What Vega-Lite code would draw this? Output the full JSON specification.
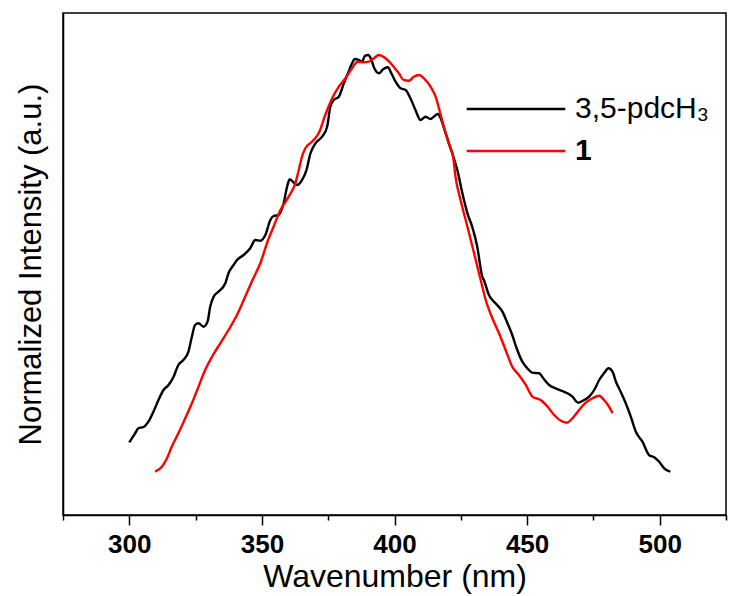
{
  "$schema": "https://vega.github.io/schema/vega-lite/v6.json",
  "autosize": {"type": "none"},
  "padding": {"left": 63, "top": 13, "right": 7, "bottom": 81},
  "width": 663,
  "height": 502,
  "background": "white",
  "config": {
    "view": {"stroke": "#000000", "strokeWidth": 1.5},
    "font": "Liberation Sans",
    "axis": {"grid": false}
  },
  "datasets": {
    "spectra": [
      {"series": "3,5-pdcH₃", "wavelength": 300.0, "intensity": 14.48},
      {"series": "3,5-pdcH₃", "wavelength": 302.2, "intensity": 16.27},
      {"series": "3,5-pdcH₃", "wavelength": 303.4, "intensity": 17.27},
      {"series": "3,5-pdcH₃", "wavelength": 305.6, "intensity": 17.59},
      {"series": "3,5-pdcH₃", "wavelength": 307.2, "intensity": 18.59},
      {"series": "3,5-pdcH₃", "wavelength": 309.1, "intensity": 20.58},
      {"series": "3,5-pdcH₃", "wavelength": 311.0, "intensity": 22.91},
      {"series": "3,5-pdcH₃", "wavelength": 312.9, "intensity": 24.90},
      {"series": "3,5-pdcH₃", "wavelength": 314.8, "intensity": 25.90},
      {"series": "3,5-pdcH₃", "wavelength": 316.7, "intensity": 27.55},
      {"series": "3,5-pdcH₃", "wavelength": 318.5, "intensity": 29.88},
      {"series": "3,5-pdcH₃", "wavelength": 320.4, "intensity": 30.88},
      {"series": "3,5-pdcH₃", "wavelength": 322.3, "intensity": 32.53},
      {"series": "3,5-pdcH₃", "wavelength": 323.6, "intensity": 35.52},
      {"series": "3,5-pdcH₃", "wavelength": 324.8, "intensity": 37.85},
      {"series": "3,5-pdcH₃", "wavelength": 326.1, "intensity": 38.19},
      {"series": "3,5-pdcH₃", "wavelength": 328.0, "intensity": 37.51},
      {"series": "3,5-pdcH₃", "wavelength": 329.5, "intensity": 38.51},
      {"series": "3,5-pdcH₃", "wavelength": 330.5, "intensity": 41.49},
      {"series": "3,5-pdcH₃", "wavelength": 331.8, "intensity": 43.49},
      {"series": "3,5-pdcH₃", "wavelength": 333.6, "intensity": 44.48},
      {"series": "3,5-pdcH₃", "wavelength": 336.2, "intensity": 46.15},
      {"series": "3,5-pdcH₃", "wavelength": 337.4, "intensity": 48.15},
      {"series": "3,5-pdcH₃", "wavelength": 339.3, "intensity": 49.80},
      {"series": "3,5-pdcH₃", "wavelength": 340.6, "intensity": 50.80},
      {"series": "3,5-pdcH₃", "wavelength": 343.1, "intensity": 51.79},
      {"series": "3,5-pdcH₃", "wavelength": 345.6, "intensity": 53.13},
      {"series": "3,5-pdcH₃", "wavelength": 347.5, "intensity": 54.78},
      {"series": "3,5-pdcH₃", "wavelength": 349.4, "intensity": 54.64},
      {"series": "3,5-pdcH₃", "wavelength": 351.3, "intensity": 55.78},
      {"series": "3,5-pdcH₃", "wavelength": 353.2, "intensity": 58.76},
      {"series": "3,5-pdcH₃", "wavelength": 354.4, "intensity": 59.56},
      {"series": "3,5-pdcH₃", "wavelength": 356.3, "intensity": 59.76},
      {"series": "3,5-pdcH₃", "wavelength": 358.2, "intensity": 62.09},
      {"series": "3,5-pdcH₃", "wavelength": 359.5, "intensity": 65.40},
      {"series": "3,5-pdcH₃", "wavelength": 360.5, "intensity": 66.87},
      {"series": "3,5-pdcH₃", "wavelength": 361.7, "intensity": 66.39},
      {"series": "3,5-pdcH₃", "wavelength": 363.3, "intensity": 65.74},
      {"series": "3,5-pdcH₃", "wavelength": 365.1, "intensity": 66.73},
      {"series": "3,5-pdcH₃", "wavelength": 366.8, "intensity": 68.72},
      {"series": "3,5-pdcH₃", "wavelength": 368.3, "intensity": 72.05},
      {"series": "3,5-pdcH₃", "wavelength": 370.2, "intensity": 74.04},
      {"series": "3,5-pdcH₃", "wavelength": 372.7, "intensity": 75.36},
      {"series": "3,5-pdcH₃", "wavelength": 374.6, "intensity": 77.35},
      {"series": "3,5-pdcH₃", "wavelength": 375.8, "intensity": 81.33},
      {"series": "3,5-pdcH₃", "wavelength": 377.1, "intensity": 82.67},
      {"series": "3,5-pdcH₃", "wavelength": 379.0, "intensity": 83.33},
      {"series": "3,5-pdcH₃", "wavelength": 380.9, "intensity": 85.99},
      {"series": "3,5-pdcH₃", "wavelength": 382.7, "intensity": 88.31},
      {"series": "3,5-pdcH₃", "wavelength": 384.0, "intensity": 89.98},
      {"series": "3,5-pdcH₃", "wavelength": 385.0, "intensity": 90.84},
      {"series": "3,5-pdcH₃", "wavelength": 386.5, "intensity": 90.64},
      {"series": "3,5-pdcH₃", "wavelength": 387.8, "intensity": 90.30},
      {"series": "3,5-pdcH₃", "wavelength": 388.8, "intensity": 91.43},
      {"series": "3,5-pdcH₃", "wavelength": 390.1, "intensity": 91.63},
      {"series": "3,5-pdcH₃", "wavelength": 391.2, "intensity": 90.78},
      {"series": "3,5-pdcH₃", "wavelength": 392.4, "intensity": 88.98},
      {"series": "3,5-pdcH₃", "wavelength": 394.1, "intensity": 87.99},
      {"series": "3,5-pdcH₃", "wavelength": 395.7, "intensity": 88.78},
      {"series": "3,5-pdcH₃", "wavelength": 397.5, "intensity": 89.18},
      {"series": "3,5-pdcH₃", "wavelength": 398.8, "intensity": 87.99},
      {"series": "3,5-pdcH₃", "wavelength": 400.4, "intensity": 86.31},
      {"series": "3,5-pdcH₃", "wavelength": 402.3, "intensity": 85.00},
      {"series": "3,5-pdcH₃", "wavelength": 404.2, "intensity": 84.66},
      {"series": "3,5-pdcH₃", "wavelength": 406.0, "intensity": 83.01},
      {"series": "3,5-pdcH₃", "wavelength": 407.9, "intensity": 80.68},
      {"series": "3,5-pdcH₃", "wavelength": 409.8, "intensity": 78.68},
      {"series": "3,5-pdcH₃", "wavelength": 411.7, "intensity": 79.34},
      {"series": "3,5-pdcH₃", "wavelength": 413.6, "intensity": 78.88},
      {"series": "3,5-pdcH₃", "wavelength": 414.8, "intensity": 79.34},
      {"series": "3,5-pdcH₃", "wavelength": 416.4, "intensity": 79.88},
      {"series": "3,5-pdcH₃", "wavelength": 417.4, "intensity": 79.02},
      {"series": "3,5-pdcH₃", "wavelength": 418.9, "intensity": 76.69},
      {"series": "3,5-pdcH₃", "wavelength": 420.5, "intensity": 74.04},
      {"series": "3,5-pdcH₃", "wavelength": 422.2, "intensity": 71.37},
      {"series": "3,5-pdcH₃", "wavelength": 423.7, "intensity": 68.72},
      {"series": "3,5-pdcH₃", "wavelength": 425.6, "intensity": 64.08},
      {"series": "3,5-pdcH₃", "wavelength": 427.5, "intensity": 60.10},
      {"series": "3,5-pdcH₃", "wavelength": 429.3, "intensity": 57.43},
      {"series": "3,5-pdcH₃", "wavelength": 431.2, "intensity": 53.45},
      {"series": "3,5-pdcH₃", "wavelength": 433.1, "intensity": 47.47},
      {"series": "3,5-pdcH₃", "wavelength": 433.7, "intensity": 46.81},
      {"series": "3,5-pdcH₃", "wavelength": 435.6, "intensity": 43.82},
      {"series": "3,5-pdcH₃", "wavelength": 438.1, "intensity": 42.17},
      {"series": "3,5-pdcH₃", "wavelength": 440.7, "intensity": 40.50},
      {"series": "3,5-pdcH₃", "wavelength": 442.6, "intensity": 38.19},
      {"series": "3,5-pdcH₃", "wavelength": 444.4, "intensity": 35.86},
      {"series": "3,5-pdcH₃", "wavelength": 446.3, "intensity": 32.87},
      {"series": "3,5-pdcH₃", "wavelength": 448.2, "intensity": 30.54},
      {"series": "3,5-pdcH₃", "wavelength": 450.1, "intensity": 29.22},
      {"series": "3,5-pdcH₃", "wavelength": 452.0, "intensity": 28.35},
      {"series": "3,5-pdcH₃", "wavelength": 454.5, "intensity": 28.23},
      {"series": "3,5-pdcH₃", "wavelength": 456.4, "intensity": 27.03},
      {"series": "3,5-pdcH₃", "wavelength": 458.3, "intensity": 25.90},
      {"series": "3,5-pdcH₃", "wavelength": 460.8, "intensity": 25.24},
      {"series": "3,5-pdcH₃", "wavelength": 463.3, "intensity": 24.70},
      {"series": "3,5-pdcH₃", "wavelength": 465.2, "intensity": 24.24},
      {"series": "3,5-pdcH₃", "wavelength": 467.1, "intensity": 23.57},
      {"series": "3,5-pdcH₃", "wavelength": 469.2, "intensity": 22.37},
      {"series": "3,5-pdcH₃", "wavelength": 471.5, "intensity": 22.91},
      {"series": "3,5-pdcH₃", "wavelength": 473.4, "intensity": 23.57},
      {"series": "3,5-pdcH₃", "wavelength": 475.3, "intensity": 24.90},
      {"series": "3,5-pdcH₃", "wavelength": 477.2, "intensity": 26.89},
      {"series": "3,5-pdcH₃", "wavelength": 479.0, "intensity": 28.23},
      {"series": "3,5-pdcH₃", "wavelength": 480.7, "intensity": 29.22},
      {"series": "3,5-pdcH₃", "wavelength": 482.2, "intensity": 28.55},
      {"series": "3,5-pdcH₃", "wavelength": 483.5, "intensity": 26.55},
      {"series": "3,5-pdcH₃", "wavelength": 485.3, "intensity": 24.56},
      {"series": "3,5-pdcH₃", "wavelength": 487.2, "intensity": 22.25},
      {"series": "3,5-pdcH₃", "wavelength": 489.1, "intensity": 19.58},
      {"series": "3,5-pdcH₃", "wavelength": 491.0, "intensity": 16.59},
      {"series": "3,5-pdcH₃", "wavelength": 493.5, "intensity": 14.60},
      {"series": "3,5-pdcH₃", "wavelength": 496.0, "intensity": 11.95},
      {"series": "3,5-pdcH₃", "wavelength": 497.9, "intensity": 11.49},
      {"series": "3,5-pdcH₃", "wavelength": 499.8, "intensity": 10.62},
      {"series": "3,5-pdcH₃", "wavelength": 501.7, "intensity": 9.30},
      {"series": "3,5-pdcH₃", "wavelength": 504.0, "intensity": 8.63},
      {"series": "1", "wavelength": 309.7, "intensity": 8.63},
      {"series": "1", "wavelength": 312.3, "intensity": 9.62},
      {"series": "1", "wavelength": 314.2, "intensity": 11.29},
      {"series": "1", "wavelength": 316.0, "intensity": 13.61},
      {"series": "1", "wavelength": 318.5, "intensity": 16.27},
      {"series": "1", "wavelength": 321.1, "intensity": 19.26},
      {"series": "1", "wavelength": 323.6, "intensity": 22.25},
      {"series": "1", "wavelength": 326.1, "intensity": 25.56},
      {"series": "1", "wavelength": 328.6, "intensity": 28.88},
      {"series": "1", "wavelength": 331.2, "intensity": 31.53},
      {"series": "1", "wavelength": 334.3, "intensity": 34.20},
      {"series": "1", "wavelength": 337.4, "intensity": 36.85},
      {"series": "1", "wavelength": 340.6, "intensity": 39.84},
      {"series": "1", "wavelength": 343.7, "intensity": 43.49},
      {"series": "1", "wavelength": 346.9, "intensity": 47.31},
      {"series": "1", "wavelength": 349.4, "intensity": 50.14},
      {"series": "1", "wavelength": 351.9, "intensity": 54.12},
      {"series": "1", "wavelength": 354.4, "intensity": 57.43},
      {"series": "1", "wavelength": 357.0, "intensity": 60.76},
      {"series": "1", "wavelength": 360.1, "intensity": 63.41},
      {"series": "1", "wavelength": 362.6, "intensity": 66.07},
      {"series": "1", "wavelength": 363.9, "intensity": 68.72},
      {"series": "1", "wavelength": 365.1, "intensity": 71.37},
      {"series": "1", "wavelength": 366.4, "intensity": 73.05},
      {"series": "1", "wavelength": 368.9, "intensity": 74.36},
      {"series": "1", "wavelength": 371.4, "intensity": 76.03},
      {"series": "1", "wavelength": 373.9, "intensity": 79.68},
      {"series": "1", "wavelength": 376.5, "intensity": 83.01},
      {"series": "1", "wavelength": 379.0, "intensity": 85.32},
      {"series": "1", "wavelength": 381.5, "intensity": 86.99},
      {"series": "1", "wavelength": 384.0, "intensity": 88.98},
      {"series": "1", "wavelength": 386.1, "intensity": 90.30},
      {"series": "1", "wavelength": 388.4, "intensity": 90.18},
      {"series": "1", "wavelength": 390.3, "intensity": 90.30},
      {"series": "1", "wavelength": 392.2, "intensity": 90.97},
      {"series": "1", "wavelength": 394.1, "intensity": 91.63},
      {"series": "1", "wavelength": 396.6, "intensity": 90.97},
      {"series": "1", "wavelength": 399.1, "intensity": 89.64},
      {"series": "1", "wavelength": 401.6, "intensity": 87.99},
      {"series": "1", "wavelength": 403.5, "intensity": 86.65},
      {"series": "1", "wavelength": 405.4, "intensity": 86.51},
      {"series": "1", "wavelength": 407.3, "intensity": 87.31},
      {"series": "1", "wavelength": 409.2, "intensity": 87.65},
      {"series": "1", "wavelength": 411.1, "intensity": 86.99},
      {"series": "1", "wavelength": 413.6, "intensity": 85.32},
      {"series": "1", "wavelength": 415.5, "intensity": 83.33},
      {"series": "1", "wavelength": 417.1, "intensity": 80.34},
      {"series": "1", "wavelength": 418.6, "intensity": 77.35},
      {"series": "1", "wavelength": 420.5, "intensity": 74.04},
      {"series": "1", "wavelength": 422.2, "intensity": 71.05},
      {"series": "1", "wavelength": 423.0, "intensity": 67.39},
      {"series": "1", "wavelength": 424.9, "intensity": 62.75},
      {"series": "1", "wavelength": 427.5, "intensity": 57.43},
      {"series": "1", "wavelength": 430.0, "intensity": 52.13},
      {"series": "1", "wavelength": 432.5, "intensity": 46.81},
      {"series": "1", "wavelength": 434.4, "intensity": 42.83},
      {"series": "1", "wavelength": 436.9, "intensity": 39.18},
      {"series": "1", "wavelength": 439.4, "intensity": 36.19},
      {"series": "1", "wavelength": 441.9, "intensity": 32.87},
      {"series": "1", "wavelength": 444.4, "intensity": 29.54},
      {"series": "1", "wavelength": 446.9, "intensity": 27.89},
      {"series": "1", "wavelength": 449.5, "intensity": 25.90},
      {"series": "1", "wavelength": 452.0, "intensity": 23.57},
      {"series": "1", "wavelength": 455.1, "intensity": 22.91},
      {"series": "1", "wavelength": 457.7, "intensity": 21.57},
      {"series": "1", "wavelength": 460.2, "intensity": 19.92},
      {"series": "1", "wavelength": 462.7, "intensity": 18.78},
      {"series": "1", "wavelength": 465.0, "intensity": 18.39},
      {"series": "1", "wavelength": 467.1, "intensity": 19.26},
      {"series": "1", "wavelength": 469.6, "intensity": 20.92},
      {"series": "1", "wavelength": 472.1, "intensity": 22.37},
      {"series": "1", "wavelength": 474.7, "intensity": 23.25},
      {"series": "1", "wavelength": 477.2, "intensity": 23.76},
      {"series": "1", "wavelength": 479.0, "intensity": 22.91},
      {"series": "1", "wavelength": 480.9, "intensity": 21.57},
      {"series": "1", "wavelength": 482.2, "intensity": 20.26}
    ]
  },
  "data": {"name": "spectra"},
  "mark": {"type": "line", "strokeWidth": 2.4, "interpolate": "monotone"},
  "encoding": {
    "x": {
      "field": "wavelength",
      "type": "quantitative",
      "scale": {"domain": [275, 525], "nice": false, "zero": false},
      "axis": {
        "title": "Wavenumber (nm)",
        "values": [275, 300, 325, 350, 375, 400, 425, 450, 475, 500, 525],
        "labelExpr": "datum.value % 50 === 0 ? datum.label : ''",
        "tickSize": {"condition": {"test": "datum.value % 50 === 0", "value": 10}, "value": 5},
        "tickColor": "#000000",
        "tickWidth": 1.5,
        "domainColor": "#000000",
        "domainWidth": 1.5,
        "labelFont": "Liberation Sans",
        "labelFontSize": 26,
        "labelFontWeight": "bold",
        "labelColor": "#000000",
        "labelPadding": 6,
        "labelFlush": false,
        "labelOverlap": false,
        "titleFont": "Liberation Sans",
        "titleFontSize": 32,
        "titleFontWeight": "normal",
        "titleColor": "#000000",
        "titlePadding": 4
      }
    },
    "y": {
      "field": "intensity",
      "type": "quantitative",
      "scale": {"domain": [0, 100], "nice": false},
      "axis": {
        "title": "Normalized Intensity (a.u.)",
        "ticks": false,
        "labels": false,
        "domainColor": "#000000",
        "domainWidth": 1.5,
        "titleFont": "Liberation Sans",
        "titleFontSize": 31,
        "titleFontWeight": "normal",
        "titleColor": "#000000",
        "titlePadding": 16
      }
    },
    "color": {
      "field": "series",
      "type": "nominal",
      "sort": ["3,5-pdcH₃", "1"],
      "scale": {"domain": ["3,5-pdcH₃", "1"], "range": ["#000000", "#ff0000"]},
      "legend": {
        "title": null,
        "orient": "none",
        "legendX": 438,
        "legendY": 81,
        "padding": 0,
        "symbolType": "M-4.15,0H4.15",
        "symbolSize": 564,
        "symbolStrokeWidth": 2.4,
        "labelFont": "Liberation Sans",
        "labelFontSize": 30,
        "labelColor": "#000000",
        "labelOffset": 44,
        "labelLimit": 300,
        "rowPadding": 12,
        "encode": {
          "labels": {
            "update": {
              "fontWeight": {"signal": "datum.value === '1' ? 'bold' : 'normal'"}
            }
          }
        }
      }
    }
  }
}
